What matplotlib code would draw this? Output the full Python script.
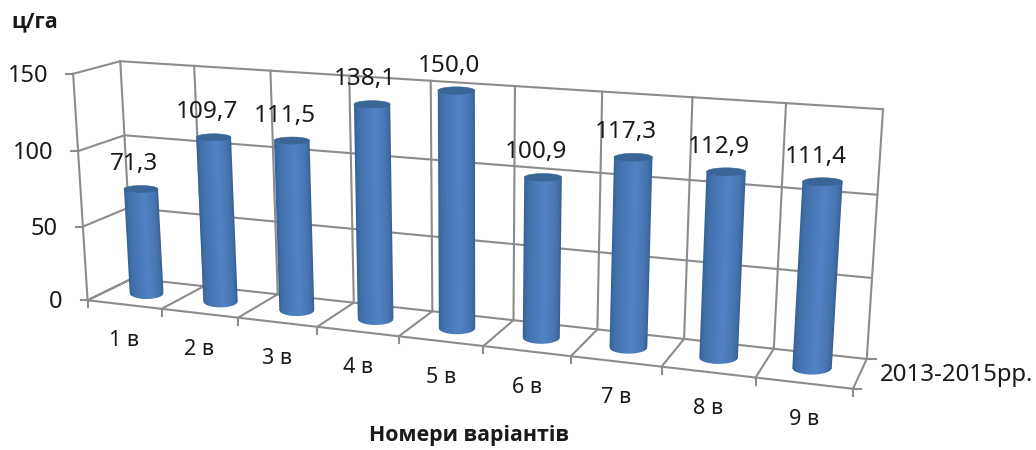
import numpy as np
import matplotlib
matplotlib.use('Agg')
import matplotlib.pyplot as plt
from matplotlib.colors import LinearSegmentedColormap
from matplotlib.patches import Polygon

plt.rcParams['font.family'] = ['Noto Sans', 'DejaVu Sans']

categories = ['1 в', '2 в', '3 в', '4 в', '5 в', '6 в', '7 в', '8 в', '9 в']
values = [71.3, 109.7, 111.5, 138.1, 150.0, 100.9, 117.3, 112.9, 111.4]
value_labels = ['71,3', '109,7', '111,5', '138,1', '150,0', '100,9', '117,3', '112,9', '111,4']
y_ticks = [0, 50, 100, 150]
series_name = '2013-2015рр.'
x_title = 'Номери варіантів'
y_title = 'ц/га'

GRID = '#8c8c8c'
TEXT = '#1a1a1a'
SIDE = LinearSegmentedColormap.from_list(
    'side', [(0.0, '#2f5a8e'), (0.2, '#3f6ea8'), (0.55, '#5283c5'), (0.78, '#4673ad'), (1.0, '#2e5888')])

# camera anchors: (category pos, depth, value) -> pixel position
world = [(0, 0, 0), (1, 0, 0), (2, 0, 0), (3, 0, 0), (8, 0, 0), (9, 0, 0),
         (0, 0, 150), (0, 1, 150), (0, 1, 0), (9, 1, 0), (9, 1, 150),
         (8, 1, 0), (8, 1, 150), (1, 1, 150), (2, 1, 150)]
screen = [(88, 298), (162, 309), (238, 318), (317, 328), (755, 378), (853, 390),
          (73, 73), (120, 61), (132, 280), (868, 357), (883, 109),
          (773, 348), (786, 104), (195, 66), (270, 71)]


def fit_camera(world, screen):
    A, b = [], []
    for (u, d, h), (x, y) in zip(world, screen):
        A.append([u, d, h, 1, 0, 0, 0, 0, -x * u, -x * d, -x * h])
        A.append([0, 0, 0, 0, u, d, h, 1, -y * u, -y * d, -y * h])
        b += [x, y]
    p = np.linalg.lstsq(np.array(A, float), np.array(b, float), rcond=None)[0]
    return np.append(p, 1).reshape(3, 4)


CAM = fit_camera(world, screen)


def proj(u, d, h):
    x, y, w = CAM @ np.array([u, d, h, 1.0])
    return np.array([x / w, y / w])


def seg(ax, a, b, lw=1.5, z=1):
    ax.plot([a[0], b[0]], [a[1], b[1]], color=GRID, lw=lw, zorder=z,
            solid_capstyle='projecting')


def half_width(u, h):
    cell = np.linalg.norm(proj(u + 0.5, 0.5, h) - proj(u - 0.5, 0.5, h))
    return 0.5 * (15.5 + 0.25 * cell)


def cylinder(ax, u, value):
    base = proj(u, 0.5, 0)
    top = proj(u, 0.5, value)
    wb, wt = half_width(u, 0), half_width(u, value)
    ry_b, ry_t = 0.2 * wb + 2.5, 0.2 * wt

    # side of the cylinder as a small image, one shade per pixel
    x0 = int(min(top[0] - wt, base[0] - wb)) - 2
    x1 = int(max(top[0] + wt, base[0] + wb)) + 3
    y0 = int(top[1]) - 2
    y1 = int(base[1] + ry_b) + 3
    px, py = np.meshgrid(np.arange(x0, x1) + 0.5, np.arange(y0, y1) + 0.5)
    s = np.clip((py - top[1]) / (base[1] - top[1]), 0, 1)
    cx = top[0] + s * (base[0] - top[0])
    w = wt + s * (wb - wt)
    t = np.clip((px - cx) / w, -1, 1)
    rgba = SIDE(1 - np.arccos(t) / np.pi)
    edge = np.clip(w - np.abs(px - cx) + 0.5, 0, 1)
    bottom = np.clip(base[1] + ry_b * np.sqrt(1 - t ** 2) - py + 0.5, 0, 1)
    upper = np.clip(py - top[1] + 0.5, 0, 1)
    rgba[..., 3] = edge * bottom * upper
    ax.imshow(rgba, extent=(x0, x1, y1, y0), origin='upper', interpolation='nearest',
              aspect='auto', zorder=3)

    # top cap
    a = np.linspace(0, 2 * np.pi, 60)
    cap = np.c_[top[0] + wt * np.cos(a), top[1] + ry_t * np.sin(a)]
    ax.add_patch(Polygon(cap, closed=True, facecolor='#3a6597', edgecolor='#3a6597', lw=0.4, zorder=4))


fig = plt.figure(figsize=(10.36, 4.5), dpi=100)
ax = fig.add_axes([0, 0, 1, 1])

n = len(categories)
top_val = y_ticks[-1]

# back wall and left wall
for h in y_ticks:
    seg(ax, proj(0, 1, h), proj(n, 1, h))
    seg(ax, proj(0, 0, h), proj(0, 1, h))
    p = proj(0, 0, h)
    seg(ax, p, p + (-7, 0))
    ax.text(p[0] - 25, p[1] + 2, str(h), ha='right', va='center', fontsize=17, color=TEXT)
for i in range(n + 1):
    seg(ax, proj(i, 1, 0), proj(i, 1, top_val))
seg(ax, proj(0, 0, 0), proj(0, 0, top_val))

# floor
seg(ax, proj(0, 0, 0), proj(n, 0, 0))
for i in range(n + 1):
    p = proj(i, 0, 0)
    seg(ax, p, proj(i, 1, 0))
    seg(ax, p, p + (0, 7))
seg(ax, proj(n, 0, 0), proj(n, 0, 0) + (8, 0))
seg(ax, proj(n, 1, 0), proj(n, 1, 0) + (9, 0))

for i in range(n):
    cylinder(ax, i + 0.5, values[i])
    top = proj(i + 0.5, 0.5, values[i])
    ax.text(top[0] - 7, top[1] - 25, value_labels[i], ha='center', va='center',
            fontsize=17.5, color=TEXT, zorder=5)
    lab = proj(i + 0.5, 0, 0)
    ax.text(lab[0], lab[1] + 36, categories[i], ha='center', va='center',
            fontsize=15.5, color=TEXT, zorder=5)

p = proj(n, 0.5, 0)
ax.text(p[0] + 20, p[1] + 1, series_name, ha='left', va='center', fontsize=17.3, color=TEXT)
ax.text(469, 436, x_title, ha='center', va='center', fontsize=15.4, fontweight='bold',
        family='Open Sans', color=TEXT)
ax.text(11, 22, y_title, ha='left', va='center', fontsize=15.5, fontweight='bold',
        family='Open Sans', color=TEXT)

# pixel coordinates over the whole canvas
ax.set_xlim(0, 1036)
ax.set_ylim(450, 0)
ax.axis('off')

fig.savefig('out.png', dpi=100, facecolor='white')
